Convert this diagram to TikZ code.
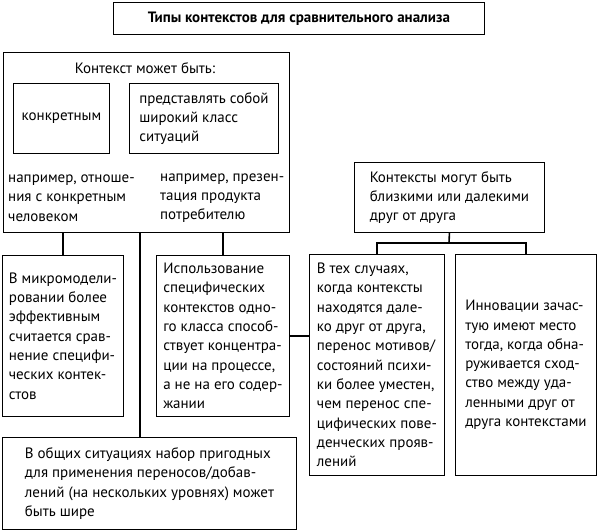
\documentclass[tikz,border=0pt]{standalone}
\usepackage{fontspec}
\setmainfont{PT Sans}
\usetikzlibrary{positioning}

\begin{document}
\begin{tikzpicture}[x=1pt, y=-1pt,
 txt/.style={align=left, inner sep=5pt, font=\fontsize{15}{19.3}\selectfont},
 box/.style={txt, draw, line width=0.9pt, anchor=north west},
 link/.style={line width=1.6pt}]
\useasboundingbox (0,0) rectangle (597,530);
\node[box, minimum width=371pt, minimum height=32pt, font=\bfseries\fontsize{15}{19.3}\selectfont] (title) at (113,2) {Типы контекстов для сравнительного анализа};

\node[box, minimum width=286pt, minimum height=180pt] (can) at (3,52) {};
\node[txt] (canhead) at (145,68) {Контекст может быть:};
\node[box, minimum width=96pt, minimum height=70pt] (concrete) at (13,83) {конкретным};
\node[box, minimum width=149pt, minimum height=70pt] (wide) at (129,83) {представлять собой\\широкий класс\\ситуаций};
\node[txt, anchor=west] (exone) at (3,198) {например, отноше-\\ния с конкретным\\человеком};
\node[txt, anchor=west] (extwo) at (155,198) {например, презен-\\тация продукта\\потребителю};

\node[box, minimum width=121pt, minimum height=161pt] (micro) at (2,255) {\vspace*{20pt}В микромодели-\\ровании более\\эффективным\\считается срав-\\нение специфи-\\ческих контек-\\стов};
\node[box, minimum width=133pt, minimum height=161pt] (usage) at (156,255) {Использование\\специфических\\контекстов одно-\\го класса способ-\\ствует концентра-\\ции на процессе,\\а не на его содер-\\жании};
\node[box, minimum width=294pt, minimum height=92pt] (general) at (2,437) {В общих ситуациях набор пригодных\\для применения переносов/добав-\\лений (на нескольких уровнях) может\\быть шире};

\node[box, minimum width=190pt, minimum height=70pt] (close) at (354,162) {Контексты могут быть\\близкими или далекими\\друг от друга};
\node[box, minimum width=135pt, minimum height=221pt] (far) at (309,254) {В тех случаях,\\когда контексты\\находятся дале-\\ко друг от друга,\\перенос мотивов/\\состояний психи-\\ки более уместен,\\чем перенос спе-\\цифических пове-\\денческих прояв-\\лений};
\node[box, minimum width=141pt, minimum height=221pt] (innov) at (455,254) {Инновации зачас-\\тую имеют место\\тогда, когда обна-\\руживается сход-\\ство между уда-\\ленными друг от\\друга контекстами};

\coordinate (trunk) at (140,232);
\coordinate (fork) at (449,243);
\draw[link] (micro.north) -- (micro.north |- can.south);
\draw[link] (usage.north) -- (usage.north |- can.south);
\draw[link] (trunk) -- (trunk |- general.north);
\draw[link] (usage.east) -- (usage.east -| far.west);
\draw[link] (close.south) -- (fork);
\draw[link] (far.north) |- (fork) -| (innov.north);
\end{tikzpicture}
\end{document}
